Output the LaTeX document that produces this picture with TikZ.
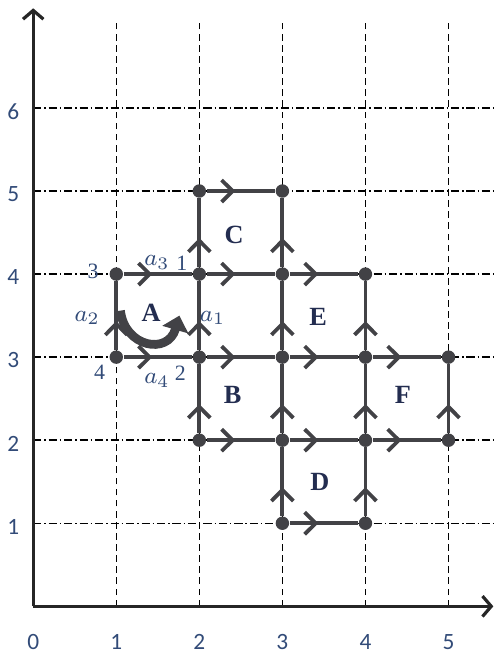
\documentclass[tikz,border=0pt]{standalone}
\usepackage{fontspec}
\setmainfont{Liberation Serif}
\newfontfamily\axisfont{Carlito}
\usetikzlibrary{arrows.meta,decorations.markings}

\definecolor{linegray}{RGB}{66,66,70}
\definecolor{numblue}{RGB}{50,75,120}
\definecolor{letterblue}{RGB}{35,45,80}

\tikzset{
  dot/.style={circle, fill=linegray, inner sep=0pt, minimum size=4.6pt},
  flow/.style={draw=linegray, line width=1.3pt, postaction={decorate},
    decoration={markings, mark=at position 0.42 with {\arrow{Straight Barb[length=3.8pt,width=7.5pt]}}}},
  gridv/.style={black, line width=0.5pt, dash pattern=on 2.3pt off 1.5pt},
  gridh/.style={black, line width=0.5pt, dash pattern=on 2.8pt off 1pt on 0.5pt off 1pt},
  axis/.style={draw=black!85, line width=1.1pt, -{Straight Barb[length=3pt,width=7pt]}},
  region/.style={font=\bfseries\fontsize{9}{10}\selectfont, text=letterblue},
  corner/.style={font=\fontsize{7.5}{8}\selectfont, text=numblue, inner sep=0pt},
  side/.style={font=\fontsize{8}{9}\selectfont, text=numblue, inner sep=0pt},
  tick/.style={font=\axisfont\fontsize{8}{9}\selectfont, text=numblue, inner sep=0pt}
}

\begin{document}
\begin{tikzpicture}

\useasboundingbox (-0.4,-0.55) rectangle (5.55,7.3);

\foreach \x in {1,...,5} \draw[gridv] (\x,0) -- (\x,7.03);
\foreach \y in {1,...,6} \draw[gridh] (0,\y) -- (5.55,\y);

\coordinate (o) at (0,0);
\coordinate (xend) at (5.54,0);
\coordinate (yend) at (0,7.2);
\draw[axis] (o) -- (xend);
\draw[axis] (o) -- (yend);

\foreach \x in {0,...,5} \node[tick] (x\x) at (\x,-0.43) {\x};
\foreach \y in {1,...,6} \node[tick] (y\y) at (-0.24,\y-0.04) {\y};

\node[dot] (v13) at (1,3) {};
\node[dot] (v14) at (1,4) {};
\node[dot] (v22) at (2,2) {};
\node[dot] (v23) at (2,3) {};
\node[dot] (v24) at (2,4) {};
\node[dot] (v25) at (2,5) {};
\node[dot] (v31) at (3,1) {};
\node[dot] (v32) at (3,2) {};
\node[dot] (v33) at (3,3) {};
\node[dot] (v34) at (3,4) {};
\node[dot] (v35) at (3,5) {};
\node[dot] (v41) at (4,1) {};
\node[dot] (v42) at (4,2) {};
\node[dot] (v43) at (4,3) {};
\node[dot] (v44) at (4,4) {};
\node[dot] (v52) at (5,2) {};
\node[dot] (v53) at (5,3) {};

\draw[flow] (v25) -- (v35);
\draw[flow] (v14) -- (v24);
\draw[flow] (v24) -- (v34);
\draw[flow] (v34) -- (v44);
\draw[flow] (v13) -- (v23);
\draw[flow] (v23) -- (v33);
\draw[flow] (v33) -- (v43);
\draw[flow] (v43) -- (v53);
\draw[flow] (v22) -- (v32);
\draw[flow] (v32) -- (v42);
\draw[flow] (v42) -- (v52);
\draw[flow] (v31) -- (v41);

\draw[flow] (v13) -- (v14);
\draw[flow] (v22) -- (v23);
\draw[flow] (v23) -- (v24);
\draw[flow] (v24) -- (v25);
\draw[flow] (v31) -- (v32);
\draw[flow] (v32) -- (v33);
\draw[flow] (v33) -- (v34);
\draw[flow] (v34) -- (v35);
\draw[flow] (v41) -- (v42);
\draw[flow] (v42) -- (v43);
\draw[flow] (v43) -- (v44);
\draw[flow] (v52) -- (v53);

\node[corner] (n1) at (1.79,4.13) {1};
\node[corner] (n2) at (1.77,2.81) {2};
\node[corner] (n3) at (0.72,4.03) {3};
\node[corner] (n4) at (0.80,2.82) {4};

\node[side] (a1) at (2.16,3.47) {$a_1$};
\node[side] (a2) at (0.65,3.47) {$a_2$};
\node[side] (a3) at (1.49,4.14) {$a_3$};
\node[side] (a4) at (1.49,2.72) {$a_4$};

\node[region] (rA) at (1.42,3.53) {A};
\node[region] (rB) at (2.40,2.54) {B};
\node[region] (rC) at (2.42,4.47) {C};
\node[region] (rD) at (3.45,1.50) {D};
\node[region] (rE) at (3.43,3.48) {E};
\node[region] (rF) at (4.45,2.54) {F};

\coordinate (turnstart) at (1.05,3.56);
\coordinate (turnend) at (1.76,3.50);
\draw[draw=linegray, line width=3pt, -{Triangle[length=5pt,width=9pt]}]
  (turnstart) .. controls (1.1,3.12) and (1.62,3.02) .. (turnend);

\end{tikzpicture}
\end{document}
